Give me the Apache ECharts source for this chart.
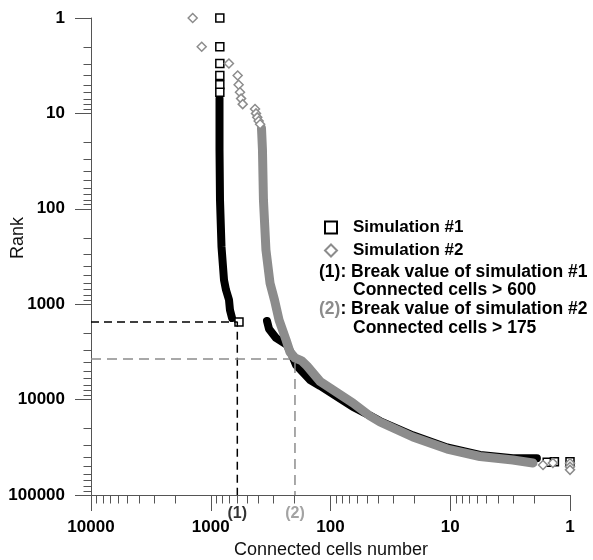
<!DOCTYPE html>
<html><head><meta charset="utf-8">
<script src="https://cdn.jsdelivr.net/npm/echarts@6/dist/echarts.min.js"></script>
<style>html,body{margin:0;padding:0;background:#fff}#c{width:593px;height:560px}</style>
</head><body><div id="c"></div>
<script>
// ---- tick values / labels ----
const xTickValues = [1, 10, 100, 1000, 10000];
const xTickLabels = ['1', '10', '100', '1000', '10000'];
const yTickValues = [1, 10, 100, 1000, 10000, 100000];
const yTickLabels = ['1', '10', '100', '1000', '10000', '100000'];
const xMinorTicks = [2,3,4,5,6,7,8,9,20,30,40,50,60,70,80,90,200,300,400,500,600,700,800,900,2000,3000,4000,5000,6000,7000,8000,9000];
const yMinorTicks = [2,3,4,5,6,7,8,9,20,30,40,50,60,70,80,90,200,300,400,500,600,700,800,900,2000,3000,4000,5000,6000,7000,8000,9000,20000,30000,40000,50000,60000,70000,80000,90000];

// ---- Simulation #1 (black squares) ----
const sim1SymbolCells = [840, 840, 840, 840, 840, 840, 581, 1.55, 1.35, 1];
const sim1SymbolRanks = [1, 2, 3, 4, 5, 6, 1538, 45500, 44800, 44800];
const sim1UpperCells = [845, 845, 837, 813, 775, 746, 704, 691, 664];
const sim1UpperRanks = [7, 24, 81, 251, 557, 709, 903, 1151, 1396];
const sim1LowerCells = [339, 326, 285, 231, 210, 194, 148, 122, 83.3, 64.9, 46.8, 38.6, 20.5, 10.6, 5.64, 3, 1.89];
const sim1LowerRanks = [1500, 1820, 2261, 2677, 3408, 4338, 6230, 7200, 9740, 11960, 14700, 16800, 23700, 31700, 38000, 41200, 41200];

// ---- Simulation #2 (gray diamonds) ----
const sim2SymbolCells = [1415, 1190, 705, 596, 585, 570, 558, 541, 427, 419, 409, 398, 387, 1.68, 1.39, 1, 1, 1];
const sim2SymbolRanks = [1, 2, 3, 4, 5, 6, 7, 8, 9, 10, 11, 12, 13, 48500, 46200, 46500, 50500, 54500];
const sim2BandCells = [377, 370, 363, 346, 320, 293.5, 269, 235, 218, 198, 175, 157, 122, 65, 46.8, 38.6, 20.5, 10.6, 5.64, 3, 2.04];
const sim2BandRanks = [14.2, 24, 81, 270, 600, 904, 1464, 2373, 3170, 3664, 3900, 4444, 6462, 10855, 14860, 17170, 24660, 32960, 39480, 42970, 46190];

// ---- break values ----
const breakCells = [600, 198];
const breakRanks = [1540, 3750];
const breakTags = ['(1)', '(2)'];

const FONT = '"Liberation Sans", Arial, sans-serif';
const BLACK = '#000000';
const GRAY = '#8c8c8c';
const AXIS = '#555555';

const zip = (a, b) => a.map((v, i) => [v, b[i]]);
const xMax = xTickValues[xTickValues.length - 1];
const yMax = yTickValues[yTickValues.length - 1];

function minorTickSeries(values, isX) {
  return {
    type: 'custom', silent: true, clip: false, z: 3,
    xAxisIndex: 0, yAxisIndex: 0,
    data: values.map(v => isX ? [v, yMax] : [xMax, v]),
    renderItem: function (params, api) {
      const p = api.coord([api.value(0), api.value(1)]);
      const px = Math.round(p[0]) + 0.5, py = Math.round(p[1]) + 0.5;
      const shape = isX ? {x1: px, y1: py, x2: px, y2: py + 8} : {x1: px - 8, y1: py, x2: px, y2: py};
      return {type: 'line', shape: shape, style: {stroke: AXIS, lineWidth: 1}};
    }
  };
}

function breakLine(i, color, dash) {
  return {
    type: 'line', silent: true, symbol: 'none', z: 4,
    data: [[xMax, breakRanks[i]], [breakCells[i], breakRanks[i]], [breakCells[i], yMax]],
    lineStyle: {color: color, width: 1.5, type: dash}
  };
}

const chart = echarts.init(document.getElementById('c'), null, {renderer: 'canvas'});
chart.setOption({
  animation: false,
  backgroundColor: '#fff',
  grid: {left: 91, right: 23, top: 18, bottom: 65, containLabel: false, outerBoundsMode: 'none'},
  xAxis: {
    type: 'log', logBase: 10, min: xTickValues[0], max: xMax, inverse: true,
    axisLine: {show: true, onZero: false, lineStyle: {color: AXIS, width: 1}},
    axisTick: {show: true, inside: false, length: 16, lineStyle: {color: AXIS}},
    minorTick: {show: false}, splitLine: {show: false},
    axisLabel: {
      margin: 24, color: '#000', fontFamily: FONT, fontWeight: 'bold', fontSize: 17,
      formatter: v => xTickLabels[xTickValues.indexOf(Math.round(v))] || ''
    }
  },
  yAxis: {
    type: 'log', logBase: 10, min: yTickValues[0], max: yMax, inverse: true,
    axisLine: {show: true, onZero: false, lineStyle: {color: AXIS, width: 1}},
    axisTick: {show: true, inside: false, length: 16, lineStyle: {color: AXIS}},
    minorTick: {show: false}, splitLine: {show: false},
    axisLabel: {
      margin: 26, color: '#000', fontFamily: FONT, fontWeight: 'bold', fontSize: 17,
      formatter: v => yTickLabels[yTickValues.indexOf(Math.round(v))] || ''
    }
  },
  legend: {
    orient: 'vertical', left: 324, top: 219, padding: 0, itemGap: 6,
    itemWidth: 12, itemHeight: 12, selectedMode: false,
    textStyle: {color: '#000', fontFamily: FONT, fontWeight: 'bold', fontSize: 17, padding: [0, 0, 0, 11]},
    data: [{name: 'Simulation #1', icon: 'rect'}, {name: 'Simulation #2', icon: 'diamond'}]
  },
  graphic: [
    {type: 'text', left: 319, top: 263, style: {text: '(1): Break value of simulation #1', font: 'bold 17.5px ' + FONT, fill: '#000'}},
    {type: 'text', left: 353, top: 281, style: {text: 'Connected cells > 600', font: 'bold 17.5px ' + FONT, fill: '#000'}},
    {type: 'text', left: 319, top: 300, style: {
      text: '{g|(2)}{b|: Break value of simulation #2}',
      rich: {g: {fill: GRAY, font: 'bold 17.5px ' + FONT}, b: {fill: '#000', font: 'bold 17.5px ' + FONT}}
    }},
    {type: 'text', left: 353, top: 319, style: {text: 'Connected cells > 175', font: 'bold 17.5px ' + FONT, fill: '#000'}},
    {type: 'text', x: 18, y: 238, rotation: Math.PI / 2, style: {text: 'Rank', font: '18px ' + FONT, fill: '#111', align: 'center', verticalAlign: 'middle'}},
    {type: 'text', x: 331, y: 550, style: {text: 'Connected cells number', font: '18px ' + FONT, fill: '#111', align: 'center', verticalAlign: 'middle'}}
  ],
  series: [
    minorTickSeries(xMinorTicks, true),
    minorTickSeries(yMinorTicks, false),
    {
      name: 'sim1-upper', type: 'line', silent: true, symbol: 'none', z: 2,
      data: zip(sim1UpperCells, sim1UpperRanks),
      lineStyle: {color: BLACK, width: 8, cap: 'round', join: 'round'}
    },
    {
      name: 'sim1-lower', type: 'line', silent: true, symbol: 'none', z: 2,
      data: zip(sim1LowerCells, sim1LowerRanks),
      lineStyle: {color: BLACK, width: 8, cap: 'round', join: 'round'}
    },
    {
      name: 'Simulation #1', type: 'scatter', symbol: 'rect', symbolSize: 8, z: 2,
      data: zip(sim1SymbolCells, sim1SymbolRanks),
      itemStyle: {color: '#fff', borderColor: BLACK, borderWidth: 1.5, opacity: 1}
    },
    {
      name: 'sim2-band', type: 'line', silent: true, symbol: 'none', z: 3,
      data: zip(sim2BandCells, sim2BandRanks),
      lineStyle: {color: GRAY, width: 9, cap: 'round', join: 'round'}
    },
    {
      name: 'Simulation #2', type: 'scatter', symbol: 'diamond', symbolSize: 9, z: 3,
      data: zip(sim2SymbolCells, sim2SymbolRanks),
      itemStyle: {color: '#fff', borderColor: GRAY, borderWidth: 1.5, opacity: 1}
    },
    breakLine(0, BLACK, [8, 5]),
    breakLine(1, GRAY, [10, 6]),
    {
      name: 'break-tags', type: 'scatter', silent: true, symbolSize: 0, z: 5,
      data: breakCells.map((c, i) => ({
        value: [c, yMax],
        label: {show: true, position: 'bottom', distance: 11, formatter: breakTags[i],
          color: i === 0 ? BLACK : GRAY, fontFamily: FONT, fontWeight: 'bold', fontSize: 16}
      }))
    }
  ]
});
</script>
</body></html>
